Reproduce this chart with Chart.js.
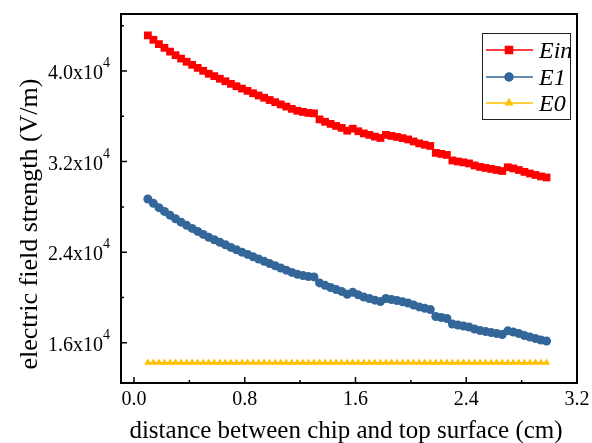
<!DOCTYPE html>
<html>
<head>
<meta charset="utf-8">
<script src="https://cdn.jsdelivr.net/npm/chart.js@4.4.0/dist/chart.umd.min.js"></script>
<style>
  html, body { margin: 0; padding: 0; background: #fff; }
</style>
</head>
<body>
<canvas id="efield" width="592" height="443"></canvas>
<script>
const distance = [
  0.10, 0.14, 0.18, 0.22, 0.26, 0.30, 0.34, 0.38, 0.42, 0.46,
  0.50, 0.54, 0.58, 0.62, 0.66, 0.70, 0.74, 0.78, 0.82, 0.86,
  0.90, 0.94, 0.98, 1.02, 1.06, 1.10, 1.14, 1.18, 1.22, 1.26,
  1.30, 1.34, 1.38, 1.42, 1.46, 1.50, 1.54, 1.58, 1.62, 1.66,
  1.70, 1.74, 1.78, 1.82, 1.86, 1.90, 1.94, 1.98, 2.02, 2.06,
  2.10, 2.14, 2.18, 2.22, 2.26, 2.30, 2.34, 2.38, 2.42, 2.46,
  2.50, 2.54, 2.58, 2.62, 2.66, 2.70, 2.74, 2.78, 2.82, 2.86,
  2.90, 2.94, 2.98
];

const eIn = [
  43150, 42760, 42380, 42050, 41720, 41400, 41100, 40820, 40550, 40280,
  40020, 39760, 39550, 39320, 39100, 38870, 38660, 38450, 38250, 38040,
  37840, 37640, 37440, 37250, 37050, 36860, 36660, 36490, 36390, 36300,
  36260, 35730, 35520, 35330, 35150, 34980, 34730, 34910, 34680, 34490,
  34360, 34210, 34090, 34360, 34270, 34180, 34070, 33960, 33780, 33610,
  33490, 33380, 32770, 32680, 32590, 32100, 32010, 31930, 31840, 31660,
  31530, 31440, 31350, 31260, 31170, 31500, 31400, 31260, 31090, 30950,
  30820, 30690, 30600
];

const e1 = [
  28700, 28310, 27930, 27600, 27270, 26950, 26650, 26370, 26100, 25830,
  25570, 25310, 25100, 24870, 24650, 24420, 24210, 24000, 23800, 23590,
  23390, 23190, 22990, 22800, 22600, 22410, 22210, 22040, 21940, 21850,
  21810, 21280, 21070, 20880, 20700, 20530, 20280, 20460, 20230, 20040,
  19910, 19760, 19640, 19910, 19820, 19730, 19620, 19510, 19330, 19160,
  19040, 18930, 18320, 18230, 18140, 17650, 17560, 17480, 17390, 17210,
  17080, 16990, 16900, 16810, 16720, 17050, 16950, 16810, 16640, 16500,
  16370, 16240, 16150
];

const e0 = [
  14230, 14230, 14230, 14230, 14230, 14230, 14230, 14230, 14230, 14230,
  14230, 14230, 14230, 14230, 14230, 14230, 14230, 14230, 14230, 14230,
  14230, 14230, 14230, 14230, 14230, 14230, 14230, 14230, 14230, 14230,
  14230, 14230, 14230, 14230, 14230, 14230, 14230, 14230, 14230, 14230,
  14230, 14230, 14230, 14230, 14230, 14230, 14230, 14230, 14230, 14230,
  14230, 14230, 14230, 14230, 14230, 14230, 14230, 14230, 14230, 14230,
  14230, 14230, 14230, 14230, 14230, 14230, 14230, 14230, 14230, 14230,
  14230, 14230, 14230
];

const xTicks = [0, 0.8, 1.6, 2.4, 3.2];
const xTickLabels = ['0.0', '0.8', '1.6', '2.4', '3.2'];
const xMinor = [0.4, 1.2, 2.0, 2.8];
const yTicks = [16000, 24000, 32000, 40000];
const yTickLabels = ['1.6x10', '2.4x10', '3.2x10', '4.0x10'];
const yTickExp = '4';
const yMinor = [20000, 28000, 36000, 44000];

const seriesNames = ['in', '1', '0'];
const colors = ['#ff0000', '#336699', '#ffc000'];
const markers = ['rect', 'circle', 'triangle'];
const markerSize = [5.5, 4.5, 4.2];

const serif = "'Liberation Serif', 'Times New Roman', serif";

function pairs(ys) {
  return distance.map((d, i) => ({ x: d, y: ys[i] }));
}

const frame = {
  id: 'frame',
  afterDatasetsDraw(chart) {
    const { ctx, chartArea: a, scales: { x, y } } = chart;
    ctx.save();
    ctx.strokeStyle = '#000';
    ctx.fillStyle = '#000';

    // inward ticks
    ctx.lineWidth = 1.5;
    ctx.beginPath();
    xTicks.forEach(v => {
      const px = x.getPixelForValue(v);
      ctx.moveTo(px, a.bottom); ctx.lineTo(px, a.bottom - 6);
    });
    xMinor.forEach(v => {
      const px = x.getPixelForValue(v);
      ctx.moveTo(px, a.bottom); ctx.lineTo(px, a.bottom - 3);
    });
    yTicks.forEach(v => {
      const py = y.getPixelForValue(v);
      ctx.moveTo(a.left, py); ctx.lineTo(a.left + 6, py);
    });
    yMinor.forEach(v => {
      const py = y.getPixelForValue(v);
      ctx.moveTo(a.left, py); ctx.lineTo(a.left + 3, py);
    });
    ctx.stroke();

    // box
    ctx.lineWidth = 2;
    ctx.strokeRect(a.left, a.top, a.right - a.left, a.bottom - a.top);

    // x tick labels
    ctx.font = '20px ' + serif;
    ctx.textAlign = 'center';
    ctx.textBaseline = 'alphabetic';
    xTicks.forEach((v, i) => {
      ctx.fillText(xTickLabels[i], x.getPixelForValue(v), a.bottom + 22);
    });

    // y tick labels with superscript
    yTicks.forEach((v, i) => {
      const py = y.getPixelForValue(v);
      ctx.font = '14px ' + serif;
      const w = ctx.measureText(yTickExp).width;
      ctx.textAlign = 'left';
      ctx.fillText(yTickExp, 110 - w, py - 4);
      ctx.font = '20px ' + serif;
      ctx.textAlign = 'right';
      ctx.fillText(yTickLabels[i], 110 - w, py + 8);
    });

    // axis titles
    ctx.font = '25px ' + serif;
    ctx.textAlign = 'center';
    ctx.fillText('distance between chip and top surface (cm)', 346, 438);
    ctx.save();
    ctx.font = '26px ' + serif;
    ctx.translate(37, 224);
    ctx.rotate(-Math.PI / 2);
    ctx.fillText('electric field strength (V/m)', 0, 0);
    ctx.restore();

    // legend
    ctx.lineWidth = 1;
    ctx.strokeStyle = '#222';
    ctx.strokeRect(482.5, 33.5, 88, 86);
    const rows = [50, 77, 103];
    seriesNames.forEach((n, i) => {
      const ly = rows[i];
      ctx.strokeStyle = colors[i];
      ctx.lineWidth = 1.5;
      ctx.beginPath();
      ctx.moveTo(486, ly); ctx.lineTo(533, ly);
      ctx.stroke();
      Chart.helpers.drawPoint(ctx, { pointStyle: markers[i], radius: markerSize[i] - 0.5, borderWidth: 1 }, 509, ly);
      ctx.fillStyle = colors[i];
      ctx.fill();
      ctx.fillStyle = '#000';
      ctx.font = 'italic 24px ' + serif;
      ctx.textAlign = 'left';
      ctx.fillText('E' + n, 539, ly + 8);
    });
    ctx.restore();
  }
};

const ds = [eIn, e1, e0].map((ys, i) => ({
  label: 'E' + seriesNames[i],
  data: pairs(ys),
  borderColor: colors[i],
  backgroundColor: colors[i],
  borderWidth: 1.5,
  pointStyle: markers[i],
  pointRadius: markerSize[i],
  pointBorderWidth: 0,
  pointBackgroundColor: colors[i],
  tension: 0
}));

new Chart(document.getElementById('efield'), {
  type: 'line',
  data: { datasets: ds },
  options: {
    responsive: false,
    animation: false,
    devicePixelRatio: 1,
    layout: { padding: { left: 121, right: 15, top: 14, bottom: 60 } },
    plugins: { legend: { display: false }, tooltip: { enabled: false } },
    scales: {
      x: { type: 'linear', min: -0.094, max: 3.2, display: false },
      y: { type: 'linear', min: 12440, max: 45040, display: false }
    }
  },
  plugins: [frame]
});
</script>
</body>
</html>
